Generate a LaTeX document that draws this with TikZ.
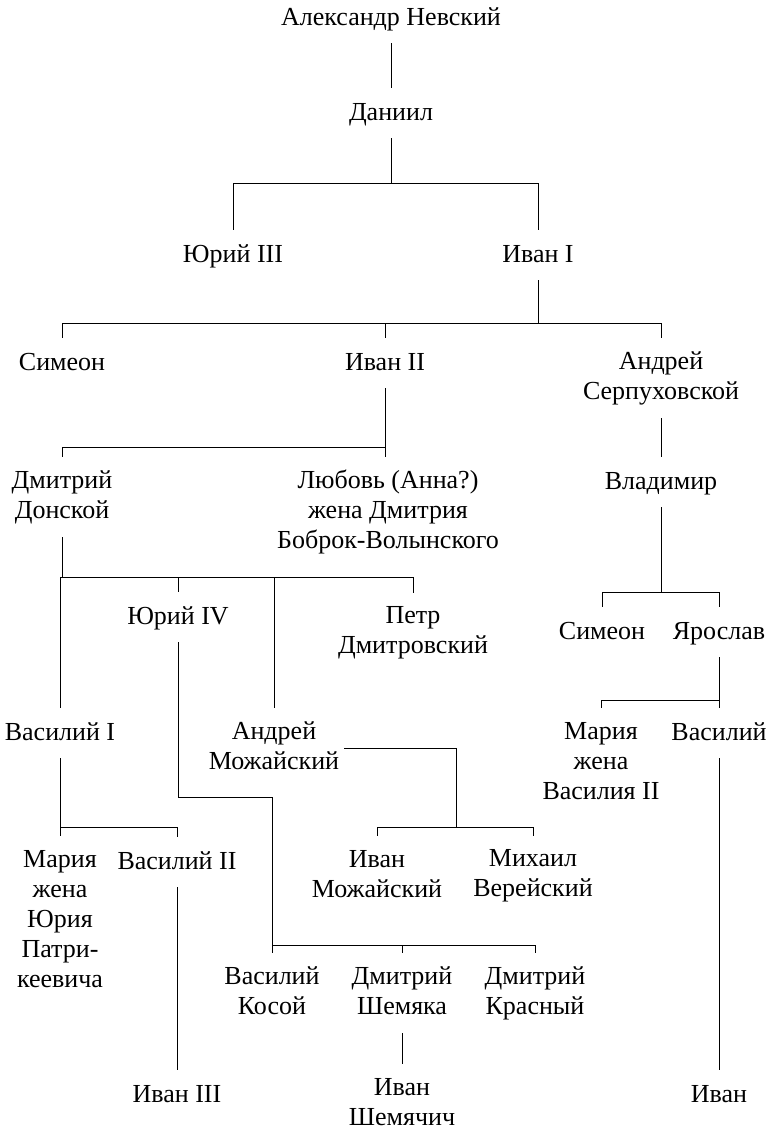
\documentclass[tikz,border=0pt]{standalone}
\usepackage{fontspec}
\setmainfont{Liberation Serif}
\begin{document}
\begin{tikzpicture}[x=1pt,y=-1pt,
  nm/.style={inner ysep=0pt, inner xsep=5pt, align=center,
    font=\fontsize{26}{30}\selectfont, minimum height=50pt,
    execute at begin node={\rule{0pt}{20pt}},
    execute at end node={\rule[-5pt]{0pt}{5pt}}},
  nmB/.style={nm, minimum height=80pt},
  nmC/.style={nm, minimum height=110pt},
  nmE/.style={nm, minimum height=170pt},
  ln/.style={line width=0.9pt, black}]
\path[use as bounding box, fill=white] (0,0) rectangle (771,1131);
% nodes
\node[nm]  (an)   at (391,18)  {Александр Невский};
\node[nm]  (dan)  at (391,113) {Даниил};
\node[nm]  (yu3)  at (233,255) {Юрий III};
\node[nm]  (iv1)  at (538,255) {Иван I};
\node[nm]  (sim)  at (62,363)  {Симеон};
\node[nm]  (iv2)  at (385,363) {Иван II};
\node[nmB] (ands) at (661,378) {Андрей\\Серпуховской};
\node[nmB] (dmd)  at (62,497)  {Дмитрий\\Донской};
\node[nmC] (lub)  at (388,512) {Любовь (Анна?)\\жена Дмитрия\\Боброк-Волынского};
\node[nm]  (vla)  at (661,482) {Владимир};
\node[nm]  (yu4)  at (178,617) {Юрий IV};
\node[nmB] (pet)  at (413,633) {Петр\\Дмитровский};
\node[nm]  (sim2) at (602,632) {Симеон};
\node[nm]  (yar)  at (719,632) {Ярослав};
\node[nm]  (vas1) at (60,733)  {Василий I};
\node[nmB] (andm) at (274,748) {Андрей\\Можайский};
\node[nmC] (mar2) at (601,763) {Мария\\жена\\Василия II};
\node[nm]  (vasr) at (719,733) {Василий};
\node[nmE] (mar1) at (60,921)  {Мария\\жена\\Юрия\\Патри-\\кеевича};
\node[nm]  (vas2) at (177,862) {Василий II};
\node[nmB] (ivm)  at (377,876) {Иван\\Можайский};
\node[nmB] (mih)  at (533,876) {Михаил\\Верейский};
\node[nmB] (vk)   at (272,993) {Василий\\Косой};
\node[nmB] (dsh)  at (402,993) {Дмитрий\\Шемяка};
\node[nmB] (dkr)  at (535,993) {Дмитрий\\Красный};
\node[nm]  (iv3)  at (177,1095) {Иван III};
\node[nmB] (ivsh) at (402,1104) {Иван\\Шемячич};
\node[nm]  (ivr)  at (719,1095) {Иван};
% bar levels
\coordinate (b1) at (0,183);
\coordinate (b2) at (0,323);
\coordinate (b3) at (0,447);
\coordinate (b4) at (0,577);
\coordinate (b5) at (0,592);
\coordinate (b6) at (0,700);
\coordinate (b7) at (0,797);
\coordinate (b8) at (0,827);
\coordinate (b9) at (0,945);
\coordinate (kx) at (456,0);
% connectors
\draw[ln] (an.south) -- (dan.north);
\draw[ln] (dan.south) -- (dan.south |- b1);
\draw[ln] (yu3.north) |- (iv1.north |- b1) -- (iv1.north);
\draw[ln] (iv1.south) -- (iv1.south |- b2);
\draw[ln] (sim.north) |- (ands.north |- b2) -- (ands.north);
\draw[ln] (iv2.north) -- (iv2.north |- b2);
\draw[ln] (iv2.south) -- (iv2.south |- lub.north);
\draw[ln] (dmd.north) |- (iv2.south |- b3);
\draw[ln] (ands.south) -- (vla.north);
\draw[ln] (dmd.south) -- (dmd.south |- b4);
\draw[ln] (vas1.north) |- (pet.north |- b4) -- (pet.north);
\draw[ln] (yu4.north) -- (yu4.north |- b4);
\draw[ln] (andm.north) -- (andm.north |- b4);
\draw[ln] (vla.south) -- (vla.south |- b5);
\draw[ln] (sim2.north) |- (yar.north |- b5) -- (yar.north);
\draw[ln] (yar.south) -- (vasr.north);
\draw[ln] (mar2.north) |- (yar.south |- b6);
\draw[ln] (vasr.south) -- (ivr.north);
\draw[ln] (yu4.south) |- (vk.north |- b7) -- (vk.north |- b9);
\draw[ln] (vk.north) |- (dkr.north |- b9) -- (dkr.north);
\draw[ln] (dsh.north) -- (dsh.north |- b9);
\draw[ln] (dsh.south) -- (ivsh.north);
\draw[ln] (andm.east) -- (andm.east -| kx) -- (kx |- b8);
\draw[ln] (ivm.north) |- (mih.north |- b8) -- (mih.north);
\draw[ln] (vas1.south) -- (vas1.south |- b8);
\draw[ln] (mar1.north) |- (vas2.north |- b8) -- (vas2.north);
\draw[ln] (vas2.south) -- (iv3.north);
\end{tikzpicture}
\end{document}
